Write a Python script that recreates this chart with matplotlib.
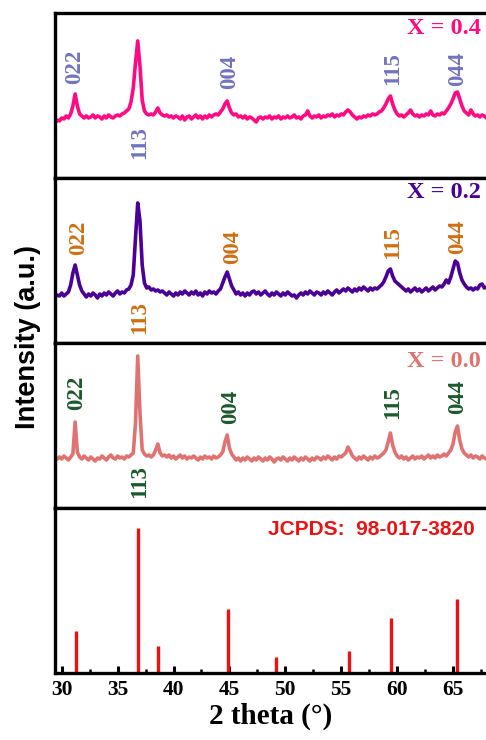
import matplotlib.pyplot as plt
from matplotlib.ticker import MultipleLocator

# 2 theta scan grid (deg), rows of 2 deg
two_theta = [
    29.4, 29.6, 29.8, 30.0, 30.2, 30.4, 30.6, 30.8, 31.0, 31.2,
    31.4, 31.6, 31.8, 32.0, 32.2, 32.4, 32.6, 32.8, 33.0, 33.2,
    33.4, 33.6, 33.8, 34.0, 34.2, 34.4, 34.6, 34.8, 35.0, 35.2,
    35.4, 35.6, 35.8, 36.0, 36.2, 36.4, 36.6, 36.8, 37.0, 37.2,
    37.4, 37.6, 37.8, 38.0, 38.2, 38.4, 38.6, 38.8, 39.0, 39.2,
    39.4, 39.6, 39.8, 40.0, 40.2, 40.4, 40.6, 40.8, 41.0, 41.2,
    41.4, 41.6, 41.8, 42.0, 42.2, 42.4, 42.6, 42.8, 43.0, 43.2,
    43.4, 43.6, 43.8, 44.0, 44.2, 44.4, 44.6, 44.8, 45.0, 45.2,
    45.4, 45.6, 45.8, 46.0, 46.2, 46.4, 46.6, 46.8, 47.0, 47.2,
    47.4, 47.6, 47.8, 48.0, 48.2, 48.4, 48.6, 48.8, 49.0, 49.2,
    49.4, 49.6, 49.8, 50.0, 50.2, 50.4, 50.6, 50.8, 51.0, 51.2,
    51.4, 51.6, 51.8, 52.0, 52.2, 52.4, 52.6, 52.8, 53.0, 53.2,
    53.4, 53.6, 53.8, 54.0, 54.2, 54.4, 54.6, 54.8, 55.0, 55.2,
    55.4, 55.6, 55.8, 56.0, 56.2, 56.4, 56.6, 56.8, 57.0, 57.2,
    57.4, 57.6, 57.8, 58.0, 58.2, 58.4, 58.6, 58.8, 59.0, 59.2,
    59.4, 59.6, 59.8, 60.0, 60.2, 60.4, 60.6, 60.8, 61.0, 61.2,
    61.4, 61.6, 61.8, 62.0, 62.2, 62.4, 62.6, 62.8, 63.0, 63.2,
    63.4, 63.6, 63.8, 64.0, 64.2, 64.4, 64.6, 64.8, 65.0, 65.2,
    65.4, 65.6, 65.8, 66.0, 66.2, 66.4, 66.6, 66.8, 67.0, 67.2,
    67.4, 67.6, 67.8, 68.0,
]

intensity_x04 = [
    55, 58, 57, 60, 59, 62, 60, 64, 72, 84,
    72, 64, 62, 60, 62, 60, 61, 63, 60, 62,
    61, 59, 62, 60, 63, 61, 60, 62, 63, 62,
    64, 65, 67, 69, 76, 90, 115, 137, 112, 78,
    67, 64, 63, 64, 63, 66, 70, 65, 63, 62,
    63, 61, 62, 60, 62, 61, 59, 62, 58, 61,
    62, 59, 61, 63, 60, 62, 59, 62, 60, 63,
    61, 63, 64, 63, 66, 69, 74, 77, 70, 65,
    63, 64, 61, 62, 60, 62, 59, 61, 60, 58,
    56, 60, 61, 59, 61, 60, 62, 59, 61, 60,
    62, 59, 61, 60, 62, 60, 61, 63, 60, 61,
    59, 62, 63, 67, 62, 60, 62, 61, 63, 60,
    62, 61, 63, 62, 64, 61, 63, 62, 64, 63,
    66, 68, 66, 63, 61, 59, 61, 60, 62, 61,
    63, 62, 64, 63, 64, 66, 67, 70, 74, 79,
    82, 74, 68, 64, 62, 63, 61, 63, 65, 68,
    64, 62, 63, 61, 63, 62, 64, 63, 67, 63,
    62, 64, 63, 65, 64, 67, 70, 74, 79, 85,
    86, 79, 72, 67, 65, 63, 68, 64, 62, 63,
    61, 63, 62, 60,
]

intensity_x02 = [
    46, 48, 47, 50, 47, 49, 51, 58, 70, 78,
    68, 58, 52, 49, 46, 49, 47, 50, 48, 45,
    49, 47, 50, 48, 51, 49, 47, 50, 52, 49,
    51, 50, 53, 54, 58, 68, 105, 140, 122, 78,
    60, 55, 56, 53, 54, 52, 53, 51, 52, 50,
    48, 51, 49, 47, 50, 48, 51, 49, 52, 50,
    48, 51, 49, 52, 48, 50, 47, 51, 49, 52,
    50, 51, 49, 52, 54, 60, 66, 71, 64, 57,
    53, 49, 51, 48, 50, 47, 50, 48, 51, 52,
    49, 51, 48, 50, 52, 49, 47, 50, 48, 51,
    49, 47, 50, 48, 51, 49, 47, 48, 45, 48,
    50, 48, 51, 49, 52, 50, 48, 51, 50, 48,
    51, 49, 52, 50, 48, 51, 53, 50, 52, 54,
    52, 55, 53, 51, 54, 52, 55, 53, 56, 54,
    52, 55, 53, 55, 54, 56, 58, 61, 66, 72,
    74, 67, 62, 60, 58, 56, 54, 52, 54, 51,
    53, 55, 52, 54, 51, 53, 55, 52, 54, 56,
    53, 55, 57, 56, 59, 63, 60, 66, 74, 82,
    80, 70, 63, 59, 56, 54, 55, 53, 55, 54,
    58, 59, 55, 56,
]

intensity_x00 = [
    50, 49, 51, 49, 52, 50, 48, 51, 54, 86,
    56, 51, 49, 52, 50, 48, 51, 49, 47, 50,
    49, 52, 50, 48, 51, 53, 50, 49, 52, 50,
    51, 49, 52, 51, 53, 55, 85, 152, 95, 58,
    54, 52, 53, 51, 53, 58, 64, 55, 52, 53,
    51, 53, 50, 52, 49, 51, 53, 50, 52, 49,
    51, 50, 52, 50, 48, 51, 49, 52, 50, 51,
    49, 52, 50, 51, 53, 56, 66, 73, 60, 54,
    51, 48, 50, 47, 50, 48, 51, 49, 47, 50,
    48, 51, 49, 47, 50, 48, 51, 49, 46, 49,
    50, 48, 51, 49, 47, 50, 48, 51, 49, 47,
    50, 48, 51, 49, 47, 50, 48, 51, 50, 48,
    51, 49, 52, 50, 48, 51, 49, 52, 51, 53,
    55, 61, 57, 52, 50, 48, 51, 49, 52, 50,
    48, 51, 49, 52, 50, 51, 53, 55, 58, 66,
    75, 63, 56, 52, 50, 52, 49, 51, 48, 50,
    52, 49, 51, 50, 52, 49, 51, 53, 50, 52,
    50, 53, 51, 52, 54, 52, 55, 58, 64, 76,
    82, 68, 59, 55, 53, 51, 53, 50, 52, 51,
    49, 52, 50, 49,
]

# reference pattern JCPDS 98-017-3820
ref_two_theta = [31.25, 36.84, 38.57, 44.88, 49.13, 55.74, 59.46, 65.33]
ref_intensity = [29, 100, 19, 44, 11, 15, 38, 51]

peak_hkl = ["022", "113", "004", "115", "044"]
sample_names = ["X = 0.4", "X = 0.2", "X = 0.0"]

SERIF = "Liberation Serif"
SANS = "Liberation Sans"

# (pattern, line colour, label colour, label positions, title y)
panels = [
    (intensity_x04, "#FF0A82", "#7272C2",
     [(31.2, 111), (37.0, 35), (45.0, 106), (59.6, 109), (65.4, 109)], 0.905),
    (intensity_x02, "#4B0096", "#D06F12",
     [(31.55, 105), (37.0, 25), (45.3, 96), (59.6, 100), (65.4, 106)], 0.91),
    (intensity_x00, "#E07272", "#1A5A2C",
     [(31.3, 115), (37.0, 26), (45.1, 101), (59.6, 105), (65.4, 111)], 0.89),
]

fig = plt.figure(figsize=(4.86, 7.4), dpi=100)
left = 55 / 486
width = 1.0 - left
h = 0.2230
bottoms = [0.0905 + 3 * h, 0.0905 + 2 * h, 0.0905 + h, 0.0905]
axes = [fig.add_axes([left, b, width, h]) for b in bottoms]

for ax in axes:
    ax.set_xlim(29.4, 67.95)
    for side in ["left", "top", "bottom"]:
        ax.spines[side].set_linewidth(2.4)
    ax.spines["right"].set_visible(False)
    ax.set_yticks([])
    ax.tick_params(axis="x", which="both", bottom=False, labelbottom=False)

for ax, (pattern, lc, tc, label_pos, ty), name in zip(axes[:3], panels, sample_names):
    ax.plot(two_theta, pattern, color=lc, lw=2.6)
    ax.set_ylim(0, 165)
    for hkl, (px, py) in zip(peak_hkl, label_pos):
        ax.text(px, py, hkl, rotation=90, ha="center", va="center", color=tc,
                fontsize=16.5, fontweight="bold", family=SERIF)
    ax.text(0.988, ty, name, transform=ax.transAxes, ha="right", va="center",
            color=lc, fontsize=17.5, fontweight="bold", family=SERIF)

ax = axes[3]
ax.vlines(ref_two_theta, 0, ref_intensity, color="#EE1111", lw=2.4)
ax.set_ylim(0, 114)
ax.text(0.974, 0.867, "JCPDS:  98-017-3820", transform=ax.transAxes, ha="right",
        va="center", color="#EE1111", fontsize=15, fontweight="bold", family=SANS)
ax.xaxis.set_major_locator(MultipleLocator(5))
ax.xaxis.set_minor_locator(MultipleLocator(2.5))
ax.tick_params(axis="x", which="major", bottom=True, labelbottom=True, direction="in",
               length=5, width=2.2, pad=5)
ax.tick_params(axis="x", which="minor", bottom=True, direction="in", length=3, width=1.8)
for lab in ax.get_xticklabels():
    lab.set_fontfamily(SERIF)
    lab.set_fontweight("bold")
    lab.set_fontsize(15.5)
ax.set_xlabel("2 theta (°)", fontsize=21, fontweight="bold", family=SERIF, labelpad=2)

fig.text(28 / 486, 1 - 337 / 740, "Intensity (a.u.)", rotation=90, ha="center",
         va="center", fontsize=19.5, fontweight="bold", family=SANS)

plt.savefig("out.png", dpi=100)
plt.close()
